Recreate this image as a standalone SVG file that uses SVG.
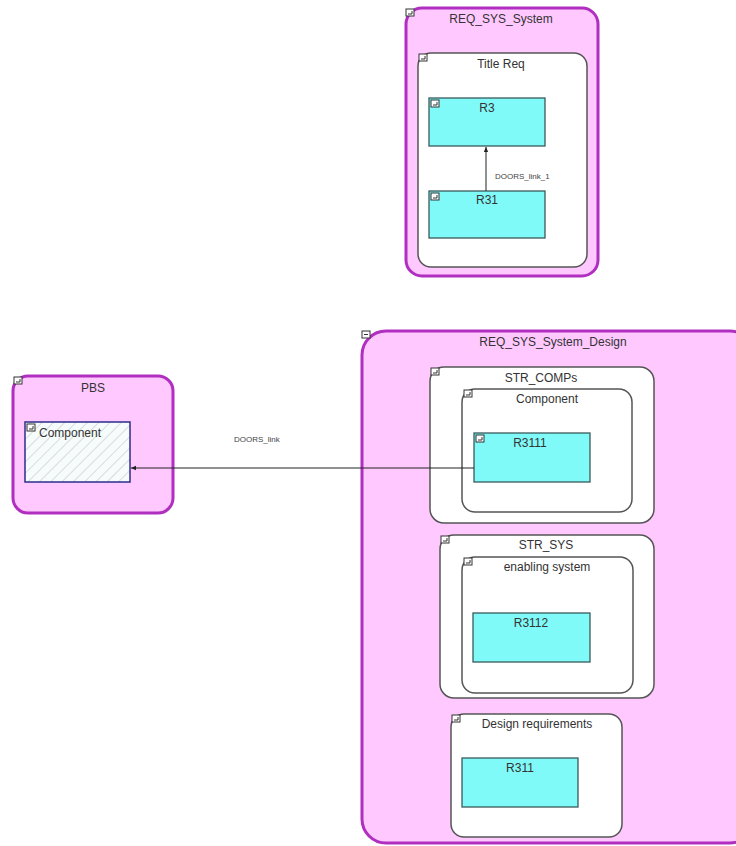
<svg xmlns="http://www.w3.org/2000/svg" width="736" height="846" viewBox="0 0 736 846">
<style>
.pk{fill:#ffc9ff;stroke:#b02fc0;stroke-width:3}
.ct{fill:#ffffff;stroke:#555;stroke-width:1.5}
.rq{fill:#80faf8;stroke:#3a5a5a;stroke-width:1.3}
.t{font-family:"Liberation Sans",Arial,sans-serif;font-size:12px;fill:#333;text-anchor:middle}
.lb{font-family:"Liberation Sans",Arial,sans-serif;font-size:8px;fill:#444}
.ic{fill:#fff;stroke:#333;stroke-width:1}
.cn{stroke:#222;stroke-width:1;fill:none}
</style>
<defs>
<marker id="ah" viewBox="0 0 8 8" refX="7" refY="4" markerWidth="6" markerHeight="6" orient="auto">
<path d="M0,1 L7,4 L0,7 z" fill="#222"/>
</marker>
<pattern id="hatch" width="8" height="8" patternUnits="userSpaceOnUse" patternTransform="rotate(45)">
<rect width="8" height="8" fill="#f6fbfb"/>
<line x1="0" y1="0" x2="0" y2="8" stroke="#c8c8c8" stroke-width="1.2"/>
</pattern>
<g id="icon"><rect class="ic" x="0" y="0" width="8" height="7"/><path d="M2,5 L6,5 L6,2" stroke="#333" stroke-width="1" fill="none"/></g>
</defs>

<g id="REQ_SYS_System">
<rect class="pk" x="406" y="8" width="192" height="268" rx="16"/>
<use href="#icon" x="406" y="9"/>
<text class="t" x="501" y="23">REQ_SYS_System</text>
</g>
<g id="TitleReq">
<rect class="ct" x="418" y="53" width="169" height="214" rx="13"/>
<use href="#icon" x="419" y="54"/>
<text class="t" x="501" y="68">Title Req</text>
</g>
<g id="R3">
<rect class="rq" x="429" y="98" width="116" height="48"/>
<use href="#icon" x="431" y="100"/>
<text class="t" x="487" y="112">R3</text>
</g>
<g id="R31">
<rect class="rq" x="429" y="191" width="116" height="47"/>
<use href="#icon" x="431" y="193"/>
<text class="t" x="487" y="204">R31</text>
</g>

<g id="PBS">
<rect class="pk" x="13" y="376" width="160" height="137" rx="15"/>
<use href="#icon" x="14" y="377"/>
<text class="t" x="93" y="392">PBS</text>
</g>
<g id="PBS_Component">
<rect x="25" y="422" width="105" height="60" fill="url(#hatch)" stroke="#2c2c8c" stroke-width="1.5"/>
<use href="#icon" x="27" y="424"/>
<text class="t" x="70" y="437">Component</text>
</g>

<g id="REQ_SYS_System_Design">
<rect class="pk" x="362" y="331" width="392" height="512" rx="24"/>
<rect class="ic" x="362" y="331" width="8" height="7"/><line x1="364" y1="334.5" x2="368" y2="334.5" stroke="#333"/>
<text class="t" x="553" y="346">REQ_SYS_System_Design</text>
</g>
<g id="STR_COMPs">
<rect class="ct" x="430" y="367" width="224" height="156" rx="14"/>
<use href="#icon" x="431" y="368"/>
<text class="t" x="541" y="382">STR_COMPs</text>
</g>
<g id="Component">
<rect class="ct" x="462" y="389" width="170" height="123" rx="13"/>
<use href="#icon" x="464" y="390"/>
<text class="t" x="547" y="403">Component</text>
</g>
<g id="R3111">
<rect class="rq" x="474" y="433" width="116" height="49"/>
<use href="#icon" x="476" y="435"/>
<text class="t" x="530" y="447">R3111</text>
</g>
<g id="STR_SYS">
<rect class="ct" x="440" y="535" width="214" height="163" rx="14"/>
<use href="#icon" x="441" y="536"/>
<text class="t" x="546" y="549">STR_SYS</text>
</g>
<g id="enabling_system">
<rect class="ct" x="462" y="557" width="171" height="136" rx="13"/>
<use href="#icon" x="464" y="558"/>
<text class="t" x="547" y="571">enabling system</text>
</g>
<g id="R3112">
<rect class="rq" x="473" y="613" width="117" height="49"/>
<text class="t" x="531" y="627">R3112</text>
</g>
<g id="Design_requirements">
<rect class="ct" x="451" y="714" width="171" height="123" rx="13"/>
<use href="#icon" x="452" y="715"/>
<text class="t" x="537" y="728">Design requirements</text>
</g>
<g id="R311">
<rect class="rq" x="462" y="758" width="116" height="49"/>
<text class="t" x="520" y="772">R311</text>
</g>

<g id="connectors">
<line class="cn" x1="486" y1="191" x2="486" y2="147" marker-end="url(#ah)"/>
<text class="lb" x="495" y="179">DOORS_link_1</text>
<line class="cn" x1="474" y1="468" x2="131" y2="468" marker-end="url(#ah)"/>
<text class="lb" x="234" y="442">DOORS_link</text>
</g>
</svg>
